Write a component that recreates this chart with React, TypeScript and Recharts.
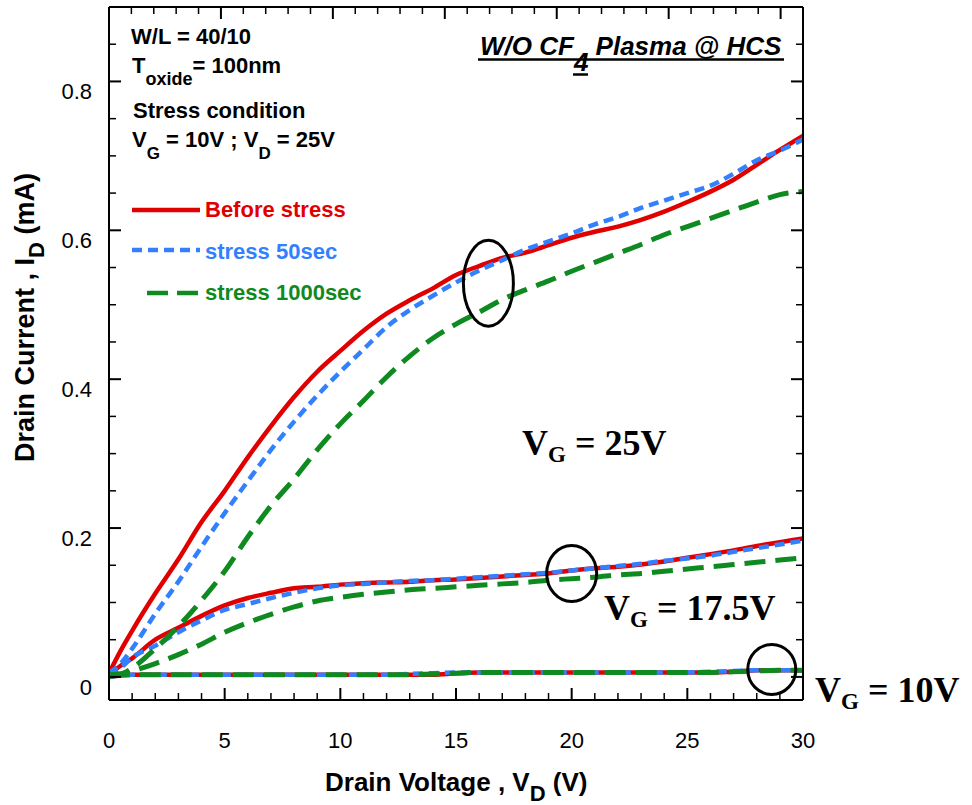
import React from 'react';
import { LineChart, Line, XAxis, YAxis, Legend, ReferenceDot } from 'recharts';

// ---------- data ----------
const vd = [0, 0.5, 1, 2, 3, 4, 5, 6, 7, 8, 9, 10, 11, 12, 13, 14, 15, 16, 17, 18, 19, 20, 21, 22, 23, 24, 25, 26, 27, 28, 29, 30];

// V_G = 25V
const before25 = [0.005, 0.035, 0.062, 0.112, 0.158, 0.208, 0.250, 0.295, 0.337, 0.376, 0.410, 0.438, 0.465, 0.488, 0.506, 0.522, 0.540, 0.552, 0.563, 0.570, 0.580, 0.590, 0.598, 0.605, 0.614, 0.625, 0.638, 0.652, 0.668, 0.688, 0.708, 0.727];
const s50_25 = [0.005, 0.018, 0.038, 0.085, 0.128, 0.175, 0.220, 0.263, 0.305, 0.343, 0.378, 0.410, 0.440, 0.470, 0.493, 0.512, 0.530, 0.546, 0.560, 0.574, 0.585, 0.596, 0.608, 0.618, 0.630, 0.640, 0.650, 0.660, 0.676, 0.694, 0.707, 0.722];
const s1000_25 = [0.003, 0.004, 0.012, 0.038, 0.068, 0.103, 0.142, 0.188, 0.230, 0.266, 0.305, 0.340, 0.371, 0.403, 0.431, 0.455, 0.474, 0.490, 0.507, 0.520, 0.532, 0.545, 0.557, 0.569, 0.581, 0.594, 0.605, 0.616, 0.627, 0.638, 0.648, 0.652];

// V_G = 17.5V
const before17 = [0.003, 0.015, 0.025, 0.050, 0.066, 0.082, 0.096, 0.106, 0.113, 0.119, 0.121, 0.124, 0.126, 0.127, 0.128, 0.130, 0.131, 0.133, 0.135, 0.137, 0.139, 0.143, 0.146, 0.148, 0.151, 0.155, 0.160, 0.165, 0.170, 0.176, 0.181, 0.186];
const s50_17 = [0.003, 0.012, 0.026, 0.042, 0.060, 0.076, 0.090, 0.098, 0.106, 0.113, 0.119, 0.123, 0.125, 0.127, 0.129, 0.130, 0.132, 0.134, 0.136, 0.138, 0.140, 0.143, 0.146, 0.149, 0.152, 0.156, 0.159, 0.163, 0.168, 0.173, 0.178, 0.183];
const s1000_17 = [0.002, 0.004, 0.008, 0.018, 0.030, 0.044, 0.060, 0.073, 0.084, 0.094, 0.102, 0.107, 0.111, 0.114, 0.117, 0.119, 0.121, 0.123, 0.125, 0.127, 0.130, 0.132, 0.134, 0.137, 0.139, 0.142, 0.145, 0.148, 0.151, 0.154, 0.157, 0.160];

// V_G = 10V
const before10 = [0.000, 0.002, 0.003, 0.003, 0.003, 0.003, 0.003, 0.003, 0.003, 0.003, 0.003, 0.003, 0.003, 0.003, 0.003, 0.003, 0.005, 0.006, 0.006, 0.006, 0.006, 0.006, 0.006, 0.006, 0.006, 0.006, 0.006, 0.006, 0.007, 0.009, 0.009, 0.009];
const s50_10 = [0.000, 0.002, 0.003, 0.003, 0.003, 0.003, 0.003, 0.003, 0.003, 0.003, 0.003, 0.003, 0.003, 0.003, 0.004, 0.005, 0.006, 0.006, 0.006, 0.006, 0.006, 0.006, 0.006, 0.006, 0.006, 0.006, 0.006, 0.007, 0.008, 0.009, 0.009, 0.009];
const s1000_10 = [0.000, 0.003, 0.003, 0.003, 0.003, 0.003, 0.003, 0.003, 0.003, 0.003, 0.003, 0.003, 0.003, 0.003, 0.003, 0.004, 0.005, 0.006, 0.006, 0.006, 0.006, 0.006, 0.006, 0.006, 0.006, 0.006, 0.006, 0.006, 0.007, 0.008, 0.009, 0.009];

const xTicksAll = [0, 1, 2, 3, 4, 5, 6, 7, 8, 9, 10, 11, 12, 13, 14, 15, 16, 17, 18, 19, 20, 21, 22, 23, 24, 25, 26, 27, 28, 29, 30];
const xMajor = [0, 5, 10, 15, 20, 25, 30];
const yTicksAll = [0, 0.05, 0.1, 0.15, 0.2, 0.25, 0.3, 0.35, 0.4, 0.45, 0.5, 0.55, 0.6, 0.65, 0.7, 0.75, 0.8, 0.85];
const yMajor = [0, 0.2, 0.4, 0.6, 0.8];

const legendNames = ['Before stress', 'stress 50sec', 'stress 1000sec'];

const data = vd.map((v, i) => ({
  vd: v,
  r25: before25[i], b25: s50_25[i], g25: s1000_25[i],
  r17: before17[i], b17: s50_17[i], g17: s1000_17[i],
  r10: before10[i], b10: s50_10[i], g10: s1000_10[i],
}));

// ---------- styles ----------
const RED = '#e00000';
const BLUE = '#3380ff';
const GREEN = '#0f8a20';
const SANS = '"Liberation Sans", Arial, sans-serif';
const SERIF = '"Liberation Serif", "Times New Roman", serif';

const styleOf: Record<string, { color: string; dash?: string; width: number; legendDash?: string }> = {
  r: { color: RED, width: 4.5 },
  b: { color: BLUE, dash: '10 6', width: 4.5, legendDash: '10 6' },
  g: { color: GREEN, dash: '21 10', width: 5, legendDash: '21 9' },
};

const isMajorY = (v: number) => yMajor.some((m) => Math.abs(m - v) < 1e-9);
const isMajorX = (v: number) => xMajor.includes(v);

const BottomTick = (p: any) => {
  const v = p.payload.value;
  const major = isMajorX(v);
  return (
    <g>
      <line x1={p.x} y1={p.y} x2={p.x} y2={p.y - (major ? 12 : 7)} stroke="#000" strokeWidth={major ? 2 : 1.5} />
      {major && (
        <text x={p.x} y={p.y + 48} textAnchor="middle" fontFamily={SANS} fontSize={22} fill="#000">{v}</text>
      )}
    </g>
  );
};
const TopTick = (p: any) => {
  const major = isMajorX(p.payload.value);
  return <line x1={p.x} y1={p.y} x2={p.x} y2={p.y + (major ? 12 : 7)} stroke="#000" strokeWidth={major ? 2 : 1.5} />;
};
const LeftTick = (p: any) => {
  const v = p.payload.value;
  const major = isMajorY(v);
  return (
    <g>
      <line x1={p.x} y1={p.y} x2={p.x + (major ? 12 : 7)} y2={p.y} stroke="#000" strokeWidth={major ? 2 : 1.5} />
      {major && (
        <text x={p.x - 17} y={p.y + 18} textAnchor="end" fontFamily={SANS} fontSize={22} fill="#000">{String(v)}</text>
      )}
    </g>
  );
};
const RightTick = (p: any) => {
  const major = isMajorY(p.payload.value);
  return <line x1={p.x} y1={p.y} x2={p.x - (major ? 12 : 7)} y2={p.y} stroke="#000" strokeWidth={major ? 2 : 1.5} />;
};

const ellipse = (rx: number, ry: number) => (p: any) => (
  <ellipse cx={p.cx} cy={p.cy} rx={rx} ry={ry} fill="none" stroke="#000" strokeWidth={3} />
);

const LegendBox = (props: any) => {
  const items = (props.payload || [])
    .filter((it: any) => legendNames.includes(it.value))
    .sort((a: any, b: any) => legendNames.indexOf(a.value) - legendNames.indexOf(b.value));
  const rows = [
    { y: 20, x1: 12, x2: 80, ty: 27 },
    { y: 60, x1: 12, x2: 80, ty: 69 },
    { y: 103, x1: 27, x2: 79, ty: 110 },
  ];
  return (
    <svg width={270} height={125} style={{ display: 'block' }}>
      {items.map((it: any, i: number) => {
        const key = String(it.dataKey || '').charAt(0);
        const st = styleOf[key] || styleOf.r;
        const r = rows[i] || rows[0];
        return (
          <g key={it.value}>
            <line x1={r.x1} y1={r.y} x2={r.x2} y2={r.y} stroke={st.color} strokeWidth={4.5} strokeDasharray={st.legendDash} />
            <text x={85} y={r.ty} fontFamily={SANS} fontWeight="bold" fontSize={22} fill={st.color}>{it.value}</text>
          </g>
        );
      })}
    </svg>
  );
};

const seriesKeys = ['r25', 'b25', 'g25', 'r17', 'b17', 'g17', 'r10', 'b10', 'g10'];
const order = ['r', 'b', 'g'];
const sortedKeys = order.flatMap((c) => seriesKeys.filter((k) => k.charAt(0) === c));

export default function App() {
  return (
    <div style={{ position: 'absolute', left: 0, top: 0, width: 972, height: 805, background: '#fff' }}>
      <LineChart width={972} height={805} data={data} margin={{ top: 6, right: 168, bottom: 104, left: 108 }}>
        <XAxis xAxisId="b" dataKey="vd" type="number" domain={[0, 30]} allowDataOverflow ticks={xTicksAll} interval={0}
          height={1} tickSize={0} tickMargin={0} tickLine={false} axisLine={{ stroke: '#000', strokeWidth: 2 }} tick={BottomTick} />
        <XAxis xAxisId="t" orientation="top" type="number" domain={[0, 30]} allowDataOverflow ticks={xTicksAll} interval={0}
          height={1} tickSize={0} tickMargin={0} tickLine={false} axisLine={{ stroke: '#000', strokeWidth: 2 }} tick={TopTick} />
        <YAxis yAxisId="l" type="number" domain={[-0.031, 0.9]} allowDataOverflow ticks={yTicksAll} interval={0}
          width={1} tickSize={0} tickMargin={0} tickLine={false} axisLine={{ stroke: '#000', strokeWidth: 2 }} tick={LeftTick} />
        <YAxis yAxisId="r" orientation="right" type="number" domain={[-0.031, 0.9]} allowDataOverflow ticks={yTicksAll} interval={0}
          width={1} tickSize={0} tickMargin={0} tickLine={false} axisLine={{ stroke: '#000', strokeWidth: 2 }} tick={RightTick} />
        {sortedKeys.map((k) => {
          const st = styleOf[k.charAt(0)];
          const isLegend = k.endsWith('25');
          const name = legendNames[order.indexOf(k.charAt(0))];
          return (
            <Line key={k} xAxisId="b" yAxisId="l" dataKey={k} name={isLegend ? name : k} type="monotone" dot={false}
              stroke={st.color} strokeWidth={st.width} strokeDasharray={st.dash} isAnimationActive={false}
              legendType={isLegend ? 'line' : 'none'} />
          );
        })}
        <ReferenceDot xAxisId="b" yAxisId="l" x={16.4} y={0.529} r={1} shape={ellipse(25, 43)} ifOverflow="visible" />
        <ReferenceDot xAxisId="b" yAxisId="l" x={20.0} y={0.139} r={1} shape={ellipse(25, 28)} ifOverflow="visible" />
        <ReferenceDot xAxisId="b" yAxisId="l" x={28.65} y={0.010} r={1} shape={ellipse(24, 25)} ifOverflow="visible" />
        <Legend layout="vertical" align="center" verticalAlign="middle" content={LegendBox}
          wrapperStyle={{ left: 120, top: 190, width: 270, height: 125 }} />
      </LineChart>
      <svg width={972} height={805} style={{ position: 'absolute', left: 0, top: 0, pointerEvents: 'none' }}>
        {/* condition block */}
        <g fontFamily={SANS} fontWeight="bold" fontSize={22} fill="#000">
          <text x={131} y={44}>W/L = 40/10</text>
          <text x={132} y={73}>T<tspan fontSize={18} dy={12}>oxide</tspan><tspan dy={-12}>= 100nm</tspan></text>
          <text x={133} y={118}>Stress condition</text>
          <text x={132} y={147}>V<tspan fontSize={17} dy={12}>G</tspan><tspan dy={-12}> = 10V ; V</tspan><tspan fontSize={17} dy={12}>D</tspan><tspan dy={-12}> = 25V</tspan></text>
        </g>
        {/* title */}
        <text x={480} y={55} fontFamily={SANS} fontWeight="bold" fontStyle="italic" fontSize={26} fill="#000">
          W/O CF<tspan dy={16}>4</tspan><tspan dy={-16}> Plasma @ HCS</tspan>
        </text>
        <line x1={478} y1={59.5} x2={784} y2={59.5} stroke="#000" strokeWidth={2.5} />
        <line x1={573} y1={74.5} x2={588} y2={74.5} stroke="#000" strokeWidth={2.5} />
        {/* gate voltage labels */}
        <g fontFamily={SERIF} fontWeight="bold" fontSize={36} fill="#000">
          <text x={522} y={455}>V<tspan fontSize={23} dy={7}>G</tspan><tspan dy={-7}> = 25V</tspan></text>
          <text x={604} y={620}>V<tspan fontSize={23} dy={7}>G</tspan><tspan dy={-7}> = 17.5V</tspan></text>
          <text x={815} y={702}>V<tspan fontSize={23} dy={7}>G</tspan><tspan dy={-7}> = 10V</tspan></text>
        </g>
        {/* axis titles */}
        <text x={325} y={791} fontFamily={SANS} fontWeight="bold" fontSize={26} fill="#000">
          Drain Voltage , V<tspan fontSize={22} dy={10}>D</tspan><tspan dy={-10}> (V)</tspan>
        </text>
        <text transform="translate(34,462) rotate(-90)" x={0} y={0} fontFamily={SANS} fontWeight="bold" fontSize={27} fill="#000">
          Drain Current , I<tspan fontSize={22} dy={10}>D</tspan><tspan dy={-10}> (mA)</tspan>
        </text>
      </svg>
    </div>
  );
}
